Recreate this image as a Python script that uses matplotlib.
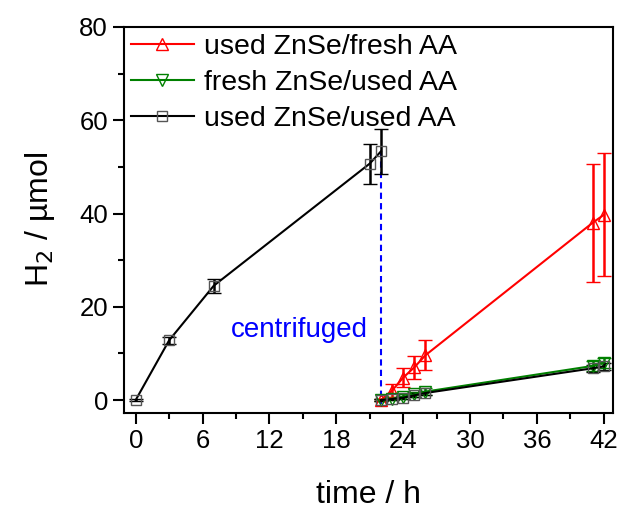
import numpy as np
import matplotlib
matplotlib.use("Agg")
import matplotlib.pyplot as plt
from matplotlib.ticker import MultipleLocator
from matplotlib.lines import Line2D

plt.rcParams['font.family'] = ['Liberation Sans', 'DejaVu Sans']

# datos
t_before = [0, 3, 7, 21, 22]
h2_before = [0, 12.8, 24.5, 50.7, 53.3]
err_before = [0.3, 0.8, 1.5, 4.3, 4.8]

t_after = [22, 23, 24, 25, 26, 41, 42]
h2_red = [0, 2.0, 4.8, 7.0, 9.6, 38.0, 39.7]
err_red = [0.3, 1.5, 2.0, 2.5, 3.2, 12.7, 13.2]
h2_green = [0, 0.3, 0.7, 1.2, 1.8, 7.3, 8.0]
err_green = [0.2, 0.4, 0.5, 0.6, 0.7, 1.0, 1.1]
h2_black = [0, 0.2, 0.5, 1.0, 1.5, 6.8, 7.2]
err_black = [0.2, 0.3, 0.3, 0.4, 0.4, 0.8, 0.8]

labels = ['used ZnSe/fresh AA', 'fresh ZnSe/used AA', 'used ZnSe/used AA']

fig = plt.figure(figsize=(6.2, 5.19), dpi=100)
ax = fig.add_axes([0.2, 0.205, 0.789, 0.743])

ax.plot([22, 22], [53.3, -0.8], ls=(0, (3, 2)), color='blue', lw=1.5, zorder=1)

kw = dict(capsize=5, elinewidth=1.8, capthick=1.8, lw=1.5, mfc='none', mew=1)
ax.errorbar(t_after, h2_red, yerr=err_red, color='red', marker='^', ms=8, **kw)
ax.errorbar(t_after, h2_green, yerr=err_green, color='green', marker='v', ms=8, **kw)
ax.errorbar(t_after, h2_black, yerr=err_black, color='black', marker='s', ms=7,
            mec='#555555', **kw)
ax.errorbar(t_before, h2_before, yerr=err_before, color='black', marker='s', ms=7,
            mec='#555555', **kw)

ax.text(20.8, 15, 'centrifuged', color='blue', fontsize=20, ha='right', va='center')

ax.set_xlim(-1.05, 42.85)
ax.set_ylim(-2.7, 80)
ax.xaxis.set_major_locator(MultipleLocator(6))
ax.xaxis.set_minor_locator(MultipleLocator(3))
ax.yaxis.set_major_locator(MultipleLocator(20))
ax.yaxis.set_minor_locator(MultipleLocator(10))
ax.tick_params(which='major', length=8, width=1.5, labelsize=18.5, direction='out')
ax.tick_params(which='minor', length=4, width=1.5, direction='out')
for s in ax.spines.values():
    s.set_linewidth(1.5)

ax.set_xlabel('time / h', fontsize=23, labelpad=20)
ax.set_ylabel('H$_2$ / µmol', fontsize=23, labelpad=16)

handles = [
    Line2D([], [], color='red', marker='^', ms=8, mfc='none', lw=1.5),
    Line2D([], [], color='green', marker='v', ms=8, mfc='none', lw=1.5),
    Line2D([], [], color='black', marker='s', ms=7, mfc='none', mec='#555555', lw=1.5),
]
ax.legend(handles, labels, loc='upper left', frameon=False, fontsize=20.5,
          handlelength=2.2, borderaxespad=0.0, borderpad=0.25,
          handletextpad=0.35, labelspacing=0.35)

fig.savefig('out.png', dpi=100)
